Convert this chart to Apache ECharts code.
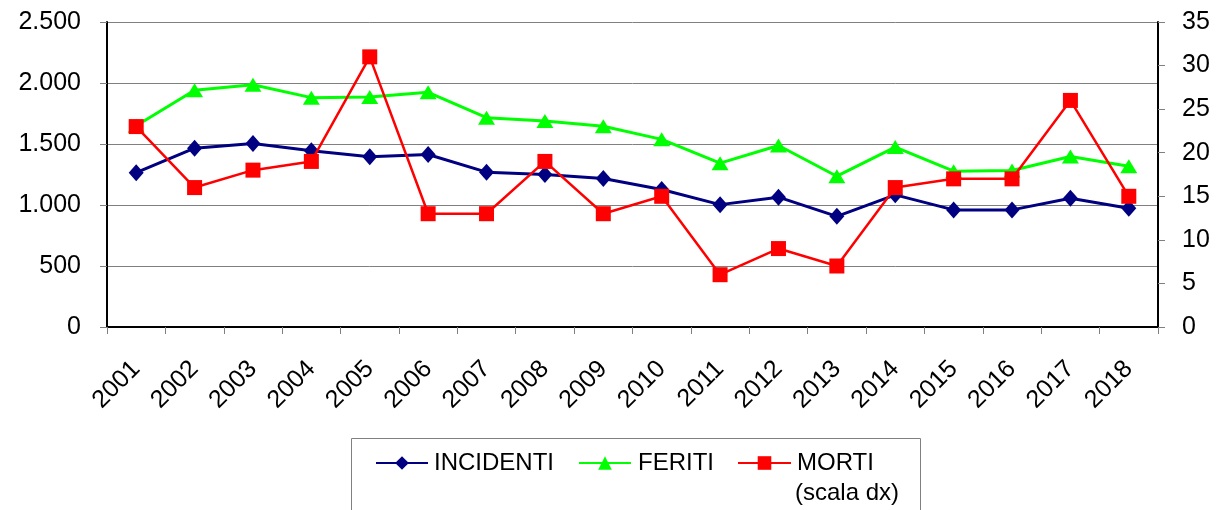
<!DOCTYPE html>
<html>
<head>
<meta charset="utf-8">
<script src="https://cdn.jsdelivr.net/npm/echarts@6/dist/echarts.min.js"></script>
<style>
html,body{margin:0;padding:0;background:#fff;}
#chart{width:1216px;height:510px;}
</style>
</head>
<body>
<div id="chart"></div>
<script>
var years = ['2001','2002','2003','2004','2005','2006','2007','2008','2009','2010','2011','2012','2013','2014','2015','2016','2017','2018'];
var incidenti = [1265,1466,1505,1445,1395,1414,1269,1250,1217,1127,1003,1064,907,1083,960,960,1055,973];
var feriti = [1650,1941,1985,1880,1886,1924,1716,1688,1645,1538,1343,1488,1236,1475,1277,1283,1398,1318];
var morti = [23,16,18,19,31,13,13,19,13,15,6,9,7,16,17,17,26,15];
var leftTicks = [0,500,1000,1500,2000,2500];
var rightTicks = [0,5,10,15,20,25,30,35];

var FONT = "'Liberation Sans', Arial, sans-serif";
var chart = echarts.init(document.getElementById('chart'), null, {renderer:'canvas'});

function fmtThousands(v){
  return String(v).replace(/\B(?=(\d{3})+(?!\d))/g, '.');
}

function legendFor(name, left, width, padLeft){
  return {
    data:[name], left:left, top:451, itemWidth:width, itemHeight:17, padding:0,
    textStyle:{fontFamily:FONT, fontSize:24, color:'#000', padding:[0,0,0,padLeft]},
    selectedMode:false
  };
}

chart.setOption({
  animation:false,
  backgroundColor:'#fff',
  grid:{left:107, right:58, top:22, bottom:183, containLabel:false},
  legend:[
    legendFor('INCIDENTI', 375, 52, 1),
    legendFor('FERITI', 578, 52, 2),
    legendFor('MORTI', 737, 53, 1)
  ],
  graphic:[
    {type:'rect', left:349, top:436, shape:{width:569, height:100}, style:{fill:'none', stroke:'#808080', lineWidth:1}, z:-1},
    {type:'text', left:795, top:481, style:{text:'(scala dx)', fontFamily:FONT, fontSize:24, fill:'#000'}}
  ],
  xAxis:{
    type:'category', data:years, boundaryGap:true,
    axisLine:{lineStyle:{color:'#000', width:2}},
    axisTick:{show:true, length:7, lineStyle:{color:'#808080', width:1}},
    axisLabel:{rotate:45, margin:38, fontFamily:FONT, fontSize:25, color:'#000'},
    splitLine:{show:false}
  },
  yAxis:[
    {
      type:'value', min:leftTicks[0], max:leftTicks[leftTicks.length-1], interval:500,
      axisLine:{show:true, lineStyle:{color:'#000', width:2}},
      axisTick:{show:true, length:7, lineStyle:{color:'#808080'}},
      axisLabel:{margin:26, fontFamily:FONT, fontSize:25, color:'#000', formatter:fmtThousands},
      splitLine:{show:true, lineStyle:{color:'#808080', width:1}}
    },
    {
      type:'value', min:rightTicks[0], max:rightTicks[rightTicks.length-1], interval:5, position:'right',
      axisLine:{show:true, lineStyle:{color:'#000', width:2}},
      axisTick:{show:true, length:7, lineStyle:{color:'#808080'}},
      axisLabel:{margin:24, fontFamily:FONT, fontSize:25, color:'#000'},
      splitLine:{show:false}
    }
  ],
  series:[
    {
      name:'INCIDENTI', type:'line', data:incidenti, yAxisIndex:0,
      symbol:'diamond', symbolSize:[15,17],
      lineStyle:{color:'#000080', width:3}, itemStyle:{color:'#000080'}, z:3
    },
    {
      name:'FERITI', type:'line', data:feriti, yAxisIndex:0,
      symbol:'triangle', symbolSize:[17,14],
      lineStyle:{color:'#00FF00', width:3}, itemStyle:{color:'#00FF00'}, z:4
    },
    {
      name:'MORTI', type:'line', data:morti, yAxisIndex:1,
      symbol:'rect', symbolSize:15,
      lineStyle:{color:'#FF0000', width:2.5}, itemStyle:{color:'#FF0000'}, z:5
    }
  ]
});
</script>
</body>
</html>
